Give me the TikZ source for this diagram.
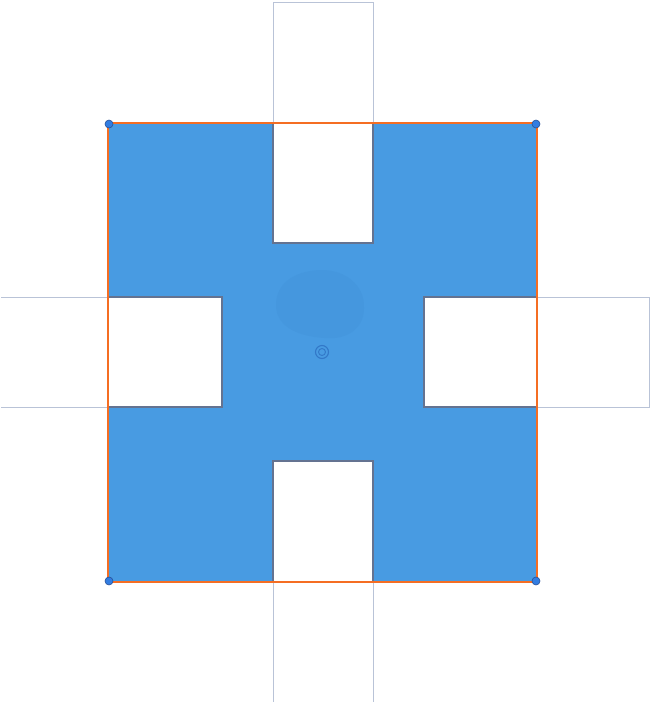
\documentclass[tikz,border=0pt]{standalone}
\begin{document}
\begin{tikzpicture}[x=1pt,y=-1pt,
  blueshape/.style={fill=shapeblue, draw=none},
  cutout/.style={fill=white, draw=cutedge, line width=1.2pt},
  ghost/.style={draw=ghostedge, line width=1pt},
  outline/.style={draw=orangeline, line width=1.6pt},
  handle/.style={circle, fill=handleblue, draw=handleedge, line width=0.6pt, inner sep=0pt, minimum size=8pt}]
\definecolor{shapeblue}{RGB}{72,155,226}
\definecolor{blobblue}{RGB}{69,151,222}
\definecolor{cutedge}{RGB}{100,115,145}
\definecolor{ghostedge}{RGB}{185,195,215}
\definecolor{orangeline}{RGB}{245,110,35}
\definecolor{handleblue}{RGB}{50,125,225}
\definecolor{handleedge}{RGB}{40,80,150}
\definecolor{centerring}{RGB}{50,120,200}
\useasboundingbox (0,0) rectangle (652,702);
% blue square
\fill[blueshape] (108,123) rectangle (537,582);
% soft blob
\fill[blobblue] (276,305) .. controls (276,280) and (300,270) .. (322,270)
  .. controls (345,270) and (365,285) .. (364,308)
  .. controls (364,330) and (345,340) .. (325,338)
  .. controls (305,337) and (276,330) .. (276,305) -- cycle;
% cutouts
\draw[cutout] (273,123) rectangle (373,243);
\draw[cutout] (108,297) rectangle (222,407);
\draw[cutout] (424,297) rectangle (537,407);
\draw[cutout] (273,461) rectangle (373,582);
% ghost rectangles outside
\draw[ghost] (273,123) -- (273,2) -- (373,2) -- (373,123);
\draw[ghost] (108,297) -- (1,297);
\draw[ghost] (108,407) -- (1,407);
\draw[ghost] (537,297) -- (649,297) -- (649,407) -- (537,407);
\draw[ghost] (273,582) -- (273,702);
\draw[ghost] (373,582) -- (373,702);
% orange outline
\draw[outline] (108,123) rectangle (537,582);
% handles
\node[handle] (h1) at (109,124) {};
\node[handle] (h2) at (536,124) {};
\node[handle] (h3) at (109,581) {};
\node[handle] (h4) at (536,581) {};
% center marker
\node[circle, draw=centerring, line width=1.1pt, inner sep=0pt, minimum size=13pt] (c) at (322,352) {};
\node[circle, draw=centerring, line width=0.9pt, inner sep=0pt, minimum size=7pt] (c2) at (322,352) {};
\end{tikzpicture}
\end{document}
